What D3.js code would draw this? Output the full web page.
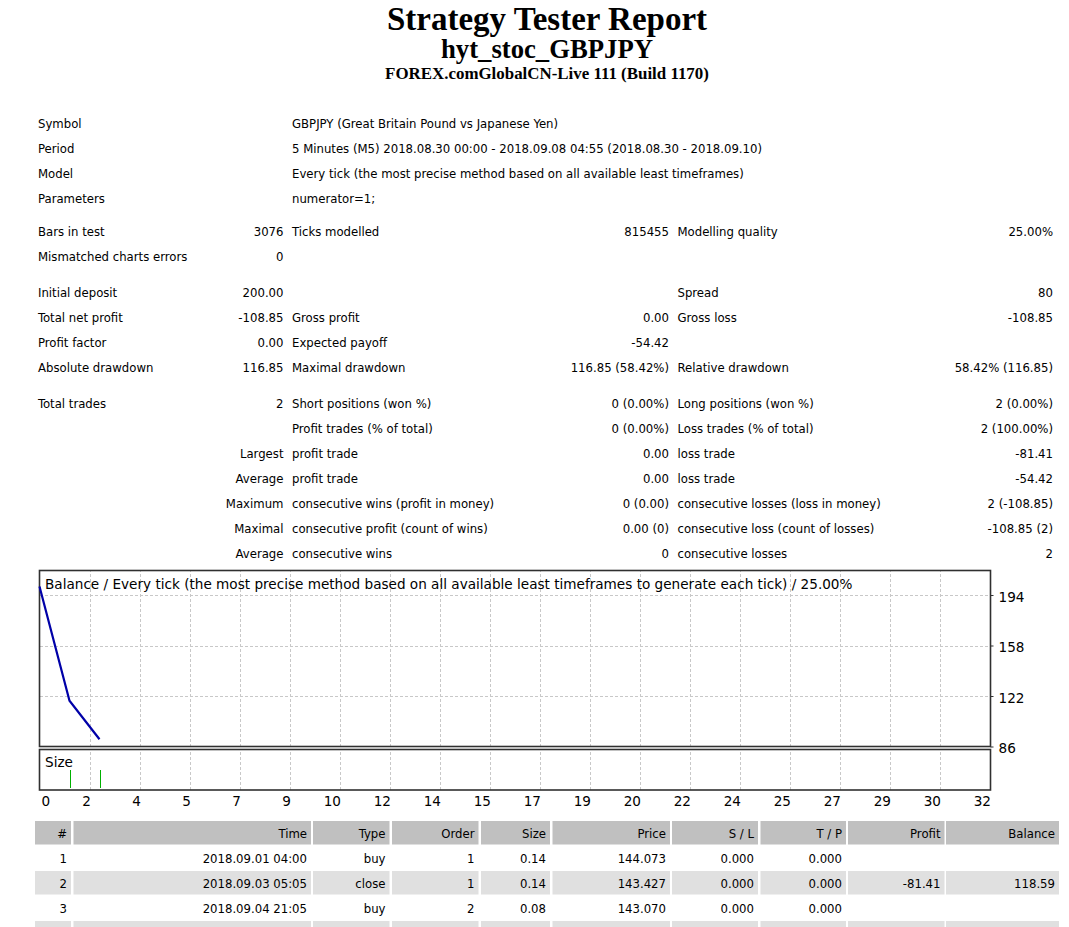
<!DOCTYPE html>
<html>
<head>
<meta charset="utf-8">
<script src="https://cdn.jsdelivr.net/npm/d3@7"></script>
<style>
  body { margin: 0; background: #fff; }
  svg text { font-family: "DejaVu Sans Condensed", "DejaVu Sans", sans-serif; font-stretch: condensed; fill: #000; }
  .head text { font-family: "Liberation Serif", serif; font-weight: bold; font-stretch: normal; }
  .chart text { font-family: "DejaVu Sans", sans-serif; font-stretch: normal; }
</style>
</head>
<body>
<div id="report"></div>
<script>
// report header lines
var headLines = ["Strategy Tester Report", "hyt_stoc_GBPJPY", "FOREX.comGlobalCN-Live 111 (Build 1170)"];

// top block: label / value rows
var infoTop = [
  ["Symbol", "GBPJPY (Great Britain Pound vs Japanese Yen)"],
  ["Period", "5 Minutes (M5) 2018.08.30 00:00 - 2018.09.08 04:55 (2018.08.30 - 2018.09.10)"],
  ["Model", "Every tick (the most precise method based on all available least timeframes)"],
  ["Parameters", "numerator=1;"]
];

// stats block: [col1 label, col1 value, col2 label, col2 value, col3 label, col3 value]
var infoStats = [
  ["Bars in test", "3076", "Ticks modelled", "815455", "Modelling quality", "25.00%"],
  ["Mismatched charts errors", "0", "", "", "", ""],
  ["Initial deposit", "200.00", "", "", "Spread", "80"],
  ["Total net profit", "-108.85", "Gross profit", "0.00", "Gross loss", "-108.85"],
  ["Profit factor", "0.00", "Expected payoff", "-54.42", "", ""],
  ["Absolute drawdown", "116.85", "Maximal drawdown", "116.85 (58.42%)", "Relative drawdown", "58.42% (116.85)"],
  ["Total trades", "2", "Short positions (won %)", "0 (0.00%)", "Long positions (won %)", "2 (0.00%)"],
  ["", "", "Profit trades (% of total)", "0 (0.00%)", "Loss trades (% of total)", "2 (100.00%)"],
  ["", "Largest", "profit trade", "0.00", "loss trade", "-81.41"],
  ["", "Average", "profit trade", "0.00", "loss trade", "-54.42"],
  ["", "Maximum", "consecutive wins (profit in money)", "0 (0.00)", "consecutive losses (loss in money)", "2 (-108.85)"],
  ["", "Maximal", "consecutive profit (count of wins)", "0.00 (0)", "consecutive loss (count of losses)", "-108.85 (2)"],
  ["", "Average", "consecutive wins", "0", "consecutive losses", "2"]
];
var infoTopY = [123, 148, 173, 198];
var infoStatsY = [231, 256, 292.5, 317.5, 342.5, 367.5, 403.5, 428.5, 453, 478, 503, 528, 553];

// chart data
var chartTitle = "Balance / Every tick (the most precise method based on all available least timeframes to generate each tick) / 25.00%";
var tradeIndex = [0, 1, 2];
var balanceValues = [200, 118.59, 91.15];
var sizeIndex = [1, 2];
var yTickValues = [86, 122, 158, 194];
var xTickLabels = [0, 2, 4, 5, 7, 9, 10, 12, 14, 15, 17, 19, 20, 22, 24, 25, 27, 29, 30, 32];

// orders table
var tableHeader = ["#", "Time", "Type", "Order", "Size", "Price", "S / L", "T / P", "Profit", "Balance"];
var tableRows = [
  ["1", "2018.09.01 04:00", "buy", "1", "0.14", "144.073", "0.000", "0.000", "", ""],
  ["2", "2018.09.03 05:05", "close", "1", "0.14", "143.427", "0.000", "0.000", "-81.41", "118.59"],
  ["3", "2018.09.04 21:05", "buy", "2", "0.08", "143.070", "0.000", "0.000", "", ""],
  ["", "", "", "", "", "", "", "", "", ""]
];

var W = 1069, H = 927;
var svg = d3.select("#report").append("svg")
  .attr("width", W)
  .attr("height", H);

// --- header ---
var head = svg.append("g").attr("class", "head");
head.selectAll("text")
  .data(headLines)
  .enter()
  .append("text")
  .attr("x", 547)
  .attr("y", function(d, i) { return [29.5, 57.5, 78.5][i]; })
  .attr("text-anchor", "middle")
  .attr("font-size", function(d, i) { return [33, 26.7, 16.9][i] + "px"; })
  .text(function(d) { return d; });

// --- info rows ---
var info = svg.append("g").attr("font-size", "13px");
infoTop.forEach(function(r, i) {
  info.append("text").attr("x", 38).attr("y", infoTopY[i] + 4.5).text(r[0]);
  info.append("text").attr("x", 292).attr("y", infoTopY[i] + 4.5).text(r[1]);
});

// column anchors: start/end x positions
var statCols = [[38, "start"], [283.5, "end"], [292, "start"], [669, "end"], [677.5, "start"], [1053, "end"]];
infoStats.forEach(function(r, i) {
  r.forEach(function(t, j) {
    if (!t) return;
    info.append("text")
      .attr("x", statCols[j][0])
      .attr("y", infoStatsY[i] + 4.5)
      .attr("text-anchor", statCols[j][1])
      .text(t);
  });
});

// --- chart ---
var L = 39.5, R = 990.5;
var bTop = 570.5, bBot = 746.5;
var sTop = 749.5, sBot = 790;

var xScale = d3.scaleLinear()
  .domain([0, (xTickLabels.length - 1) * 5 / 3])
  .range([L, R - 1]);
var xTicks = xTickLabels.map(function(d, i) { return i * 5 / 3; });

var yScale = d3.scaleLinear()
  .domain([86, 194])
  .range([bBot, 595]);

var chart = svg.append("g").attr("class", "chart");

chart.append("rect")
  .attr("x", L).attr("y", bTop)
  .attr("width", R - L).attr("height", bBot - bTop)
  .attr("fill", "#fff");
chart.append("rect")
  .attr("x", L).attr("y", sTop)
  .attr("width", R - L).attr("height", sBot - sTop)
  .attr("fill", "#fff");

// vertical grid in both panels
function vGrid(top, bot) {
  chart.append("g")
    .attr("class", "grid")
    .attr("transform", "translate(0," + bot + ")")
    .call(d3.axisBottom(xScale).tickValues(xTicks.slice(1)).tickSize(-(bot - top)).tickFormat(""))
    .call(function(g) { g.select(".domain").remove(); });
}
vGrid(bTop, bBot);
vGrid(sTop, sBot);

// horizontal grid
chart.append("g")
  .attr("class", "grid")
  .attr("transform", "translate(" + L + ",0)")
  .call(d3.axisRight(yScale).tickValues(yTickValues.slice(1)).tickSize(R - L).tickFormat(""))
  .call(function(g) { g.select(".domain").remove(); });

chart.selectAll(".grid line")
  .attr("stroke", "#c8c8c8")
  .attr("stroke-width", 1)
  .attr("stroke-dasharray", "3,2")
  .attr("shape-rendering", "crispEdges");

// frames
chart.append("rect")
  .attr("x", L).attr("y", bTop)
  .attr("width", R - L).attr("height", bBot - bTop)
  .attr("fill", "none").attr("stroke", "#303030").attr("stroke-width", 1.6);
chart.append("rect")
  .attr("x", L).attr("y", sTop)
  .attr("width", R - L).attr("height", sBot - sTop)
  .attr("fill", "none").attr("stroke", "#303030").attr("stroke-width", 1.6);

// balance line
var balData = tradeIndex.map(function(d, i) { return { x: d, v: balanceValues[i] }; });
chart.append("path")
  .datum(balData)
  .attr("fill", "none")
  .attr("stroke", "#0000a8")
  .attr("stroke-width", 2.2)
  .attr("d", d3.line()
    .x(function(d) { return xScale(d.x); })
    .y(function(d) { return yScale(d.v); }));

// size marks
chart.selectAll(".sizebar")
  .data(sizeIndex)
  .enter()
  .append("line")
  .attr("class", "sizebar")
  .attr("x1", function(d) { return Math.round(xScale(d)) + 0.5; })
  .attr("x2", function(d) { return Math.round(xScale(d)) + 0.5; })
  .attr("y1", 770)
  .attr("y2", 788)
  .attr("stroke", "#00b000")
  .attr("stroke-width", 1);

// titles
chart.append("text")
  .attr("x", 45).attr("y", 588.5)
  .attr("font-size", "13.6px")
  .text(chartTitle);
chart.append("text")
  .attr("x", 45).attr("y", 767)
  .attr("font-size", "13.6px")
  .text("Size");

// y axis (right)
var yAxis = chart.append("g")
  .attr("transform", "translate(" + R + ",0)")
  .call(d3.axisRight(yScale).tickValues(yTickValues).tickSize(3).tickPadding(5));
yAxis.select(".domain").remove();
yAxis.selectAll("line").attr("stroke", "#303030");
yAxis.selectAll("text")
  .attr("font-size", "13.6px")
  .attr("font-family", null)
  .attr("dy", "0.45em");

// x axis labels
var xAxis = chart.append("g")
  .attr("transform", "translate(0," + sBot + ")")
  .call(d3.axisBottom(xScale).tickValues(xTicks).tickSize(0).tickPadding(5)
    .tickFormat(function(d, i) { return xTickLabels[i]; }));
xAxis.select(".domain").remove();
xAxis.selectAll("text")
  .attr("font-size", "13.6px")
  .attr("font-family", null)
  .attr("dy", "0.8em")
  .attr("text-anchor", function(d, i) { return i === 0 ? "start" : "end"; })
  .attr("dx", function(d, i) { return i === 0 ? 1.5 : 1; });

// --- orders table ---
var colX0 = [35, 73.5, 313, 392, 481, 552.5, 672, 760.5, 848, 946];
var colX1 = [71, 311, 389.5, 478.5, 550, 670, 758, 846, 944.5, 1059];
var rowY0 = [821, 846, 871, 896, 921];
var rowH = 23.5;

var table = svg.append("g").attr("font-size", "13px");
var allRows = [tableHeader].concat(tableRows);
allRows.forEach(function(row, ri) {
  var bg = ri === 0 ? "#c0c0c0" : (ri % 2 === 0 ? "#e0e0e0" : "#ffffff");
  row.forEach(function(t, ci) {
    table.append("rect")
      .attr("x", colX0[ci]).attr("y", rowY0[ri])
      .attr("width", colX1[ci] - colX0[ci]).attr("height", rowH)
      .attr("fill", bg);
    if (t) {
      table.append("text")
        .attr("x", colX1[ci] - 4)
        .attr("y", rowY0[ri] + rowH / 2 + 5)
        .attr("text-anchor", "end")
        .text(t);
    }
  });
});
</script>
</body>
</html>
